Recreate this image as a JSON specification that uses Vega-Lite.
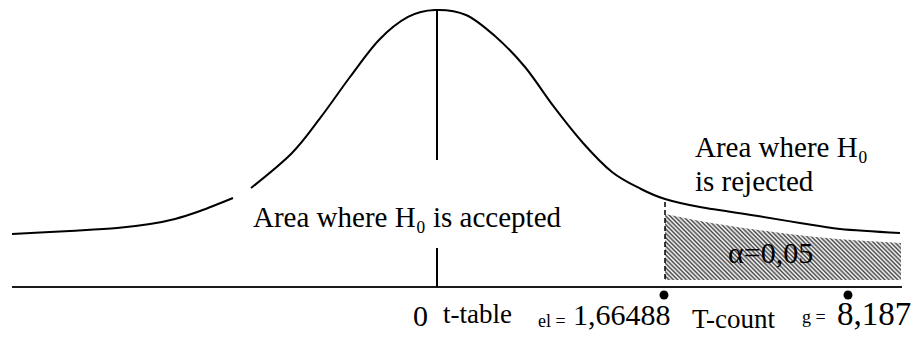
{
  "$schema": "https://vega.github.io/schema/vega-lite/v6.json",
  "width": 912,
  "height": 338,
  "autosize": {"type": "fit", "contains": "padding"},
  "padding": 0,
  "background": "white",
  "config": {"view": {"stroke": null}},
  "encoding": {
    "x": {"field": "t", "type": "quantitative", "scale": {"domain": [-4.38, 4.74], "nice": false, "zero": false}, "axis": null},
    "y": {"field": "y", "type": "quantitative", "scale": {"domain": [-0.0739, 0.4159], "nice": false, "zero": false}, "axis": null}
  },
  "layer": [
    {
      "description": "Rejection region (alpha = 0.05), hatched",
      "data": {"values": [
        {"t": 2.27, "y": 0.1058, "y2": 0.0101},
        {"t": 2.62, "y": 0.0957, "y2": 0.0101},
        {"t": 3.20, "y": 0.0826, "y2": 0.0101},
        {"t": 3.78, "y": 0.0725, "y2": 0.0101},
        {"t": 4.63, "y": 0.0638, "y2": 0.0101}
      ]},
      "mark": {
        "type": "area",
        "interpolate": "monotone",
        "fill": {
          "gradient": "linear", "x1": 0, "y1": 1, "x2": 1.1869, "y2": 0.668,
          "stops": [
            {"offset": 0, "color": "#444"}, {"offset": 0.0071, "color": "#fff"}, {"offset": 0.0143, "color": "#444"}, {"offset": 0.0214, "color": "#fff"}, {"offset": 0.0286, "color": "#444"}, {"offset": 0.0357, "color": "#fff"}, {"offset": 0.0429, "color": "#444"},
            {"offset": 0.05, "color": "#fff"}, {"offset": 0.0571, "color": "#444"}, {"offset": 0.0643, "color": "#fff"}, {"offset": 0.0714, "color": "#444"}, {"offset": 0.0786, "color": "#fff"}, {"offset": 0.0857, "color": "#444"}, {"offset": 0.0929, "color": "#fff"},
            {"offset": 0.1, "color": "#444"}, {"offset": 0.1071, "color": "#fff"}, {"offset": 0.1143, "color": "#444"}, {"offset": 0.1214, "color": "#fff"}, {"offset": 0.1286, "color": "#444"}, {"offset": 0.1357, "color": "#fff"}, {"offset": 0.1429, "color": "#444"},
            {"offset": 0.15, "color": "#fff"}, {"offset": 0.1571, "color": "#444"}, {"offset": 0.1643, "color": "#fff"}, {"offset": 0.1714, "color": "#444"}, {"offset": 0.1786, "color": "#fff"}, {"offset": 0.1857, "color": "#444"}, {"offset": 0.1929, "color": "#fff"},
            {"offset": 0.2, "color": "#444"}, {"offset": 0.2071, "color": "#fff"}, {"offset": 0.2143, "color": "#444"}, {"offset": 0.2214, "color": "#fff"}, {"offset": 0.2286, "color": "#444"}, {"offset": 0.2357, "color": "#fff"}, {"offset": 0.2429, "color": "#444"},
            {"offset": 0.25, "color": "#fff"}, {"offset": 0.2571, "color": "#444"}, {"offset": 0.2643, "color": "#fff"}, {"offset": 0.2714, "color": "#444"}, {"offset": 0.2786, "color": "#fff"}, {"offset": 0.2857, "color": "#444"}, {"offset": 0.2929, "color": "#fff"},
            {"offset": 0.3, "color": "#444"}, {"offset": 0.3071, "color": "#fff"}, {"offset": 0.3143, "color": "#444"}, {"offset": 0.3214, "color": "#fff"}, {"offset": 0.3286, "color": "#444"}, {"offset": 0.3357, "color": "#fff"}, {"offset": 0.3429, "color": "#444"},
            {"offset": 0.35, "color": "#fff"}, {"offset": 0.3571, "color": "#444"}, {"offset": 0.3643, "color": "#fff"}, {"offset": 0.3714, "color": "#444"}, {"offset": 0.3786, "color": "#fff"}, {"offset": 0.3857, "color": "#444"}, {"offset": 0.3929, "color": "#fff"},
            {"offset": 0.4, "color": "#444"}, {"offset": 0.4071, "color": "#fff"}, {"offset": 0.4143, "color": "#444"}, {"offset": 0.4214, "color": "#fff"}, {"offset": 0.4286, "color": "#444"}, {"offset": 0.4357, "color": "#fff"}, {"offset": 0.4429, "color": "#444"},
            {"offset": 0.45, "color": "#fff"}, {"offset": 0.4571, "color": "#444"}, {"offset": 0.4643, "color": "#fff"}, {"offset": 0.4714, "color": "#444"}, {"offset": 0.4786, "color": "#fff"}, {"offset": 0.4857, "color": "#444"}, {"offset": 0.4929, "color": "#fff"},
            {"offset": 0.5, "color": "#444"}, {"offset": 0.5071, "color": "#fff"}, {"offset": 0.5143, "color": "#444"}, {"offset": 0.5214, "color": "#fff"}, {"offset": 0.5286, "color": "#444"}, {"offset": 0.5357, "color": "#fff"}, {"offset": 0.5429, "color": "#444"},
            {"offset": 0.55, "color": "#fff"}, {"offset": 0.5571, "color": "#444"}, {"offset": 0.5643, "color": "#fff"}, {"offset": 0.5714, "color": "#444"}, {"offset": 0.5786, "color": "#fff"}, {"offset": 0.5857, "color": "#444"}, {"offset": 0.5929, "color": "#fff"},
            {"offset": 0.6, "color": "#444"}, {"offset": 0.6071, "color": "#fff"}, {"offset": 0.6143, "color": "#444"}, {"offset": 0.6214, "color": "#fff"}, {"offset": 0.6286, "color": "#444"}, {"offset": 0.6357, "color": "#fff"}, {"offset": 0.6429, "color": "#444"},
            {"offset": 0.65, "color": "#fff"}, {"offset": 0.6571, "color": "#444"}, {"offset": 0.6643, "color": "#fff"}, {"offset": 0.6714, "color": "#444"}, {"offset": 0.6786, "color": "#fff"}, {"offset": 0.6857, "color": "#444"}, {"offset": 0.6929, "color": "#fff"},
            {"offset": 0.7, "color": "#444"}, {"offset": 0.7071, "color": "#fff"}, {"offset": 0.7143, "color": "#444"}, {"offset": 0.7214, "color": "#fff"}, {"offset": 0.7286, "color": "#444"}, {"offset": 0.7357, "color": "#fff"}, {"offset": 0.7429, "color": "#444"},
            {"offset": 0.75, "color": "#fff"}, {"offset": 0.7571, "color": "#444"}, {"offset": 0.7643, "color": "#fff"}, {"offset": 0.7714, "color": "#444"}, {"offset": 0.7786, "color": "#fff"}, {"offset": 0.7857, "color": "#444"}, {"offset": 0.7929, "color": "#fff"},
            {"offset": 0.8, "color": "#444"}, {"offset": 0.8071, "color": "#fff"}, {"offset": 0.8143, "color": "#444"}, {"offset": 0.8214, "color": "#fff"}, {"offset": 0.8286, "color": "#444"}, {"offset": 0.8357, "color": "#fff"}, {"offset": 0.8429, "color": "#444"},
            {"offset": 0.85, "color": "#fff"}, {"offset": 0.8571, "color": "#444"}, {"offset": 0.8643, "color": "#fff"}, {"offset": 0.8714, "color": "#444"}, {"offset": 0.8786, "color": "#fff"}, {"offset": 0.8857, "color": "#444"}, {"offset": 0.8929, "color": "#fff"},
            {"offset": 0.9, "color": "#444"}, {"offset": 0.9071, "color": "#fff"}, {"offset": 0.9143, "color": "#444"}, {"offset": 0.9214, "color": "#fff"}, {"offset": 0.9286, "color": "#444"}, {"offset": 0.9357, "color": "#fff"}, {"offset": 0.9429, "color": "#444"},
            {"offset": 0.95, "color": "#fff"}, {"offset": 0.9571, "color": "#444"}, {"offset": 0.9643, "color": "#fff"}, {"offset": 0.9714, "color": "#444"}, {"offset": 0.9786, "color": "#fff"}, {"offset": 0.9857, "color": "#444"}, {"offset": 0.9929, "color": "#fff"},
            {"offset": 1, "color": "#444"}
          ]
        }
      },
      "encoding": {"y2": {"field": "y2"}}
    },
    {
      "description": "Critical value boundary (dashed)",
      "data": {"values": [{"t": 2.27, "y": 0.123, "y2": 0.0101}]},
      "mark": {"type": "rule", "color": "black", "strokeWidth": 1.5, "strokeDash": [5, 3]},
      "encoding": {"y2": {"field": "y2"}}
    },
    {
      "description": "Horizontal axis line",
      "data": {"values": [{"t": -4.26, "t2": 4.64, "y": 0}]},
      "mark": {"type": "rule", "color": "#1a1a1a", "strokeWidth": 2},
      "encoding": {"x2": {"field": "t2"}}
    },
    {
      "description": "Centre line at t = 0, broken around the label",
      "data": {"values": [
        {"t": -0.01, "y": 0.4014, "y2": 0.184},
        {"t": -0.01, "y": 0.0565, "y2": 0}
      ]},
      "mark": {"type": "rule", "color": "black", "strokeWidth": 2},
      "encoding": {"y2": {"field": "y2"}}
    },
    {
      "description": "Distribution curve",
      "data": {"values": [
        {"t": -4.26, "y": 0.0768, "part": "a"},
        {"t": -3.68, "y": 0.0813, "part": "a"},
        {"t": -3.21, "y": 0.0855, "part": "a"},
        {"t": -2.88, "y": 0.0913, "part": "a"},
        {"t": -2.63, "y": 0.0986, "part": "a"},
        {"t": -2.38, "y": 0.1101, "part": "a"},
        {"t": -2.05, "y": 0.1290, "part": "a"},
        {"t": -1.87, "y": 0.1435, "part": "b"},
        {"t": -1.46, "y": 0.1942, "part": "b"},
        {"t": -1.17, "y": 0.2464, "part": "b"},
        {"t": -0.88, "y": 0.3043, "part": "b"},
        {"t": -0.59, "y": 0.3580, "part": "b"},
        {"t": -0.30, "y": 0.3913, "part": "b"},
        {"t": -0.03, "y": 0.4014, "part": "b"},
        {"t": 0.28, "y": 0.3942, "part": "b"},
        {"t": 0.58, "y": 0.3623, "part": "b"},
        {"t": 0.87, "y": 0.3188, "part": "b"},
        {"t": 1.16, "y": 0.2609, "part": "b"},
        {"t": 1.45, "y": 0.2087, "part": "b"},
        {"t": 1.74, "y": 0.1667, "part": "b"},
        {"t": 2.03, "y": 0.1420, "part": "b"},
        {"t": 2.27, "y": 0.1275, "part": "b"},
        {"t": 2.62, "y": 0.1159, "part": "b"},
        {"t": 3.20, "y": 0.1029, "part": "b"},
        {"t": 3.62, "y": 0.0928, "part": "b"},
        {"t": 4.02, "y": 0.0841, "part": "b"},
        {"t": 4.62, "y": 0.0783, "part": "b"}
      ]},
      "mark": {"type": "line", "interpolate": "cardinal", "color": "black", "strokeWidth": 2},
      "encoding": {"detail": {"field": "part"}}
    },
    {
      "description": "Markers for t-table and t-count",
      "data": {"values": [{"t": 2.26, "y": -0.0116}, {"t": 4.10, "y": -0.0116}]},
      "mark": {"type": "point", "filled": true, "color": "black", "opacity": 1, "size": 80}
    },
    {
      "data": {"values": [
        {"t": -1.85, "y": 0.0870, "label": "Area where H₀ is accepted"},
        {"t": 2.57, "y": 0.1884, "label": "Area where H₀"},
        {"t": 2.57, "y": 0.1391, "label": "is rejected"}
      ]},
      "mark": {"type": "text", "align": "left", "baseline": "alphabetic", "font": "Liberation Serif, serif", "fontSize": 29, "color": "black"},
      "encoding": {"text": {"field": "label"}}
    },
    {
      "data": {"values": [
        {"t": 2.90, "y": 0.0348, "label": "α=0,05"},
        {"t": -0.25, "y": -0.0565, "label": "0"},
        {"t": 1.35, "y": -0.0551, "label": "1,66488"}
      ]},
      "mark": {"type": "text", "align": "left", "baseline": "alphabetic", "font": "Liberation Serif, serif", "fontSize": 30, "color": "black"},
      "encoding": {"text": {"field": "label"}}
    },
    {
      "data": {"values": [
        {"t": 0.05, "y": -0.0522, "label": "t-table"},
        {"t": 2.54, "y": -0.0594, "label": "T-count"}
      ]},
      "mark": {"type": "text", "align": "left", "baseline": "alphabetic", "font": "Liberation Serif, serif", "fontSize": 27, "color": "black"},
      "encoding": {"text": {"field": "label"}}
    },
    {
      "data": {"values": [
        {"t": 1.00, "y": -0.0580, "label": "el ="},
        {"t": 3.64, "y": -0.0522, "label": "g ="}
      ]},
      "mark": {"type": "text", "align": "left", "baseline": "alphabetic", "font": "Liberation Serif, serif", "fontSize": 18, "color": "black"},
      "encoding": {"text": {"field": "label"}}
    },
    {
      "data": {"values": [{"t": 3.99, "y": -0.0551, "label": "8,187"}]},
      "mark": {"type": "text", "align": "left", "baseline": "alphabetic", "font": "Liberation Serif, serif", "fontSize": 33, "color": "black"},
      "encoding": {"text": {"field": "label"}}
    }
  ]
}
